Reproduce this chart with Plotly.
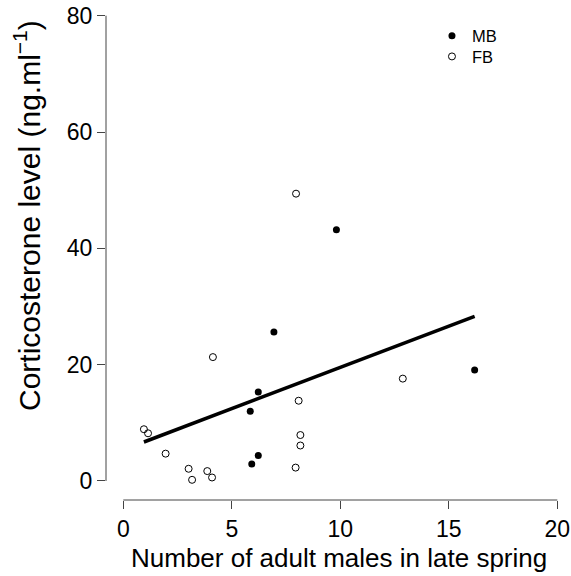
import plotly.graph_objects as go

# Data
mb_x = [6.94, 6.22, 5.85, 6.22, 5.92, 9.82, 16.19]
mb_y = [25.6, 15.3, 12.0, 4.4, 2.9, 43.2, 19.1]

fb_x = [0.95, 1.14, 1.95, 3.01, 3.17, 3.87, 4.09, 4.13, 8.08, 8.16, 8.16, 7.94, 7.96, 12.88]
fb_y = [8.9, 8.2, 4.7, 2.1, 0.2, 1.7, 0.6, 21.3, 13.8, 7.9, 6.1, 2.3, 49.4, 17.6]

fit_x = [0.95, 16.19]
fit_y = [6.7, 28.3]

x_ticks = [0, 5, 10, 15, 20]
y_ticks = [0, 20, 40, 60, 80]

W, H = 571, 576
ML, MR, MT, MB_ = 106, 0, 0, 76
PW, PH = W - ML - MR, H - MT - MB_

FONT = "Liberation Sans, Arial, Helvetica, sans-serif"

fig = go.Figure()
fig.add_trace(go.Scatter(
    x=fit_x, y=fit_y, mode="lines",
    line=dict(color="black", width=3.5), showlegend=False, hoverinfo="skip"))
fig.add_trace(go.Scatter(
    x=mb_x, y=mb_y, mode="markers", name="MB", legend="legend",
    marker=dict(symbol="circle", size=7, color="black")))
fig.add_trace(go.Scatter(
    x=fb_x, y=fb_y, mode="markers", name="FB", legend="legend2",
    marker=dict(symbol="circle-open", size=7, color="black", line=dict(width=1))))

axis_col = "#444444"
leg_common = dict(xanchor="left", yanchor="top", bgcolor="rgba(0,0,0,0)",
                  font=dict(size=16.5), itemwidth=30)
fig.update_layout(
    width=W, height=H,
    margin=dict(l=ML, r=MR, t=MT, b=MB_, pad=0),
    paper_bgcolor="white", plot_bgcolor="white",
    font=dict(family=FONT, color="black", size=23),
    showlegend=True,
    legend=dict(x=0.701, y=0.963, **leg_common),
    legend2=dict(x=0.701, y=0.9216, **leg_common),
    xaxis=dict(range=[-0.797, 20.63], tickvals=x_ticks, ticks="outside", ticklen=8,
               tickcolor=axis_col, tickwidth=1, showgrid=False, zeroline=False,
               showline=False, tickfont=dict(size=23)),
    yaxis=dict(range=[-3.27, 82.7], tickvals=y_ticks, ticks="outside", ticklen=8,
               tickcolor=axis_col, tickwidth=1, showgrid=False, zeroline=False,
               showline=False, tickfont=dict(size=23)),
    shapes=[
        dict(type="line", xref="x", yref="paper", x0=x_ticks[0], x1=x_ticks[-1],
             y0=0, y1=0, line=dict(color=axis_col, width=1)),
        dict(type="line", xref="paper", yref="y", x0=0, x1=0,
             y0=y_ticks[0], y1=y_ticks[-1], line=dict(color=axis_col, width=1)),
    ],
    annotations=[
        dict(text="Number of adult males in late spring", xref="paper", yref="paper",
             x=(339 - ML) / PW, y=(PH - 558) / PH, xanchor="center", yanchor="middle",
             showarrow=False, font=dict(size=26)),
        dict(text="Corticosterone level (ng.ml<sup>\u22121</sup>)", xref="paper", yref="paper",
             x=(27 - ML) / PW, y=(PH - 216) / PH, xanchor="center", yanchor="middle",
             textangle=-90, showarrow=False, font=dict(size=30)),
    ],
)

fig.write_html(
    "out.html",
    config={"displayModeBar": False},
    post_script="document.body.style.margin='0';document.body.style.overflow='hidden';",
)
